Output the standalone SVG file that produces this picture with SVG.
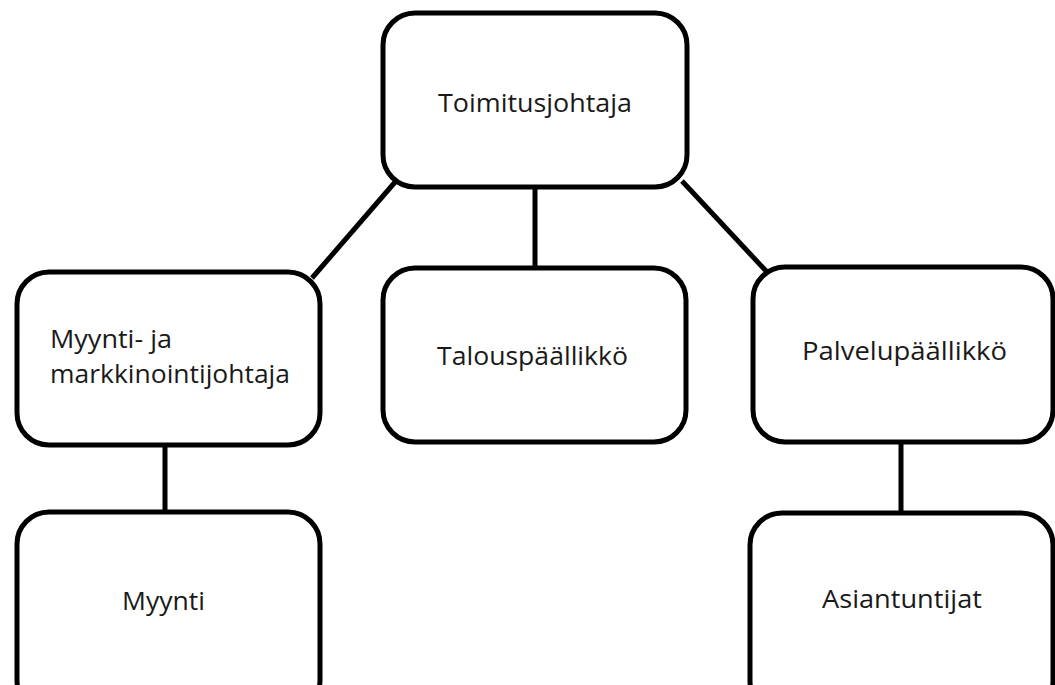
<svg xmlns="http://www.w3.org/2000/svg" width="1055" height="685" viewBox="0 0 1055 685">
<style>
.box{fill:#fff;stroke:#000;stroke-width:5}
.lbl{font-family:"Open Sans","Noto Sans",sans-serif;font-size:26px;fill:#1a1a1a}
.conn line{stroke:#000;stroke-width:5}
</style>
<rect width="1055" height="685" fill="#fff"/>
<g class="conn" id="connectors">
<line x1="396" y1="181" x2="312" y2="278"/>
<line x1="535" y1="187" x2="535" y2="268"/>
<line x1="682" y1="181" x2="767" y2="272"/>
<line x1="165" y1="445" x2="165" y2="512"/>
<line x1="901" y1="442" x2="901" y2="513"/>
</g>
<g id="n-toimitusjohtaja">
<rect class="box" x="383" y="13" width="304" height="174" rx="32"/>
<text class="lbl" x="438" y="112" textLength="194" lengthAdjust="spacingAndGlyphs">Toimitusjohtaja</text>
</g>
<g id="n-myyntijohtaja">
<rect class="box" x="17" y="272" width="303" height="173" rx="32"/>
<text class="lbl" x="50" y="348" textLength="122" lengthAdjust="spacingAndGlyphs">Myynti- ja</text>
<text class="lbl" x="50" y="383" textLength="240" lengthAdjust="spacingAndGlyphs">markkinointijohtaja</text>
</g>
<g id="n-talous">
<rect class="box" x="383" y="268" width="303" height="174" rx="32"/>
<text class="lbl" x="437" y="365" textLength="191" lengthAdjust="spacingAndGlyphs">Talouspäällikkö</text>
</g>
<g id="n-palvelu">
<rect class="box" x="753" y="267" width="300" height="175" rx="32"/>
<text class="lbl" x="802" y="360" textLength="205" lengthAdjust="spacingAndGlyphs">Palvelupäällikkö</text>
</g>
<g id="n-myynti">
<rect class="box" x="17" y="512" width="303" height="200" rx="32"/>
<text class="lbl" x="122" y="610" textLength="83" lengthAdjust="spacingAndGlyphs">Myynti</text>
</g>
<g id="n-asiantuntijat">
<rect class="box" x="750" y="513" width="303" height="200" rx="32"/>
<text class="lbl" x="822" y="608" textLength="160" lengthAdjust="spacingAndGlyphs">Asiantuntijat</text>
</g>
</svg>
